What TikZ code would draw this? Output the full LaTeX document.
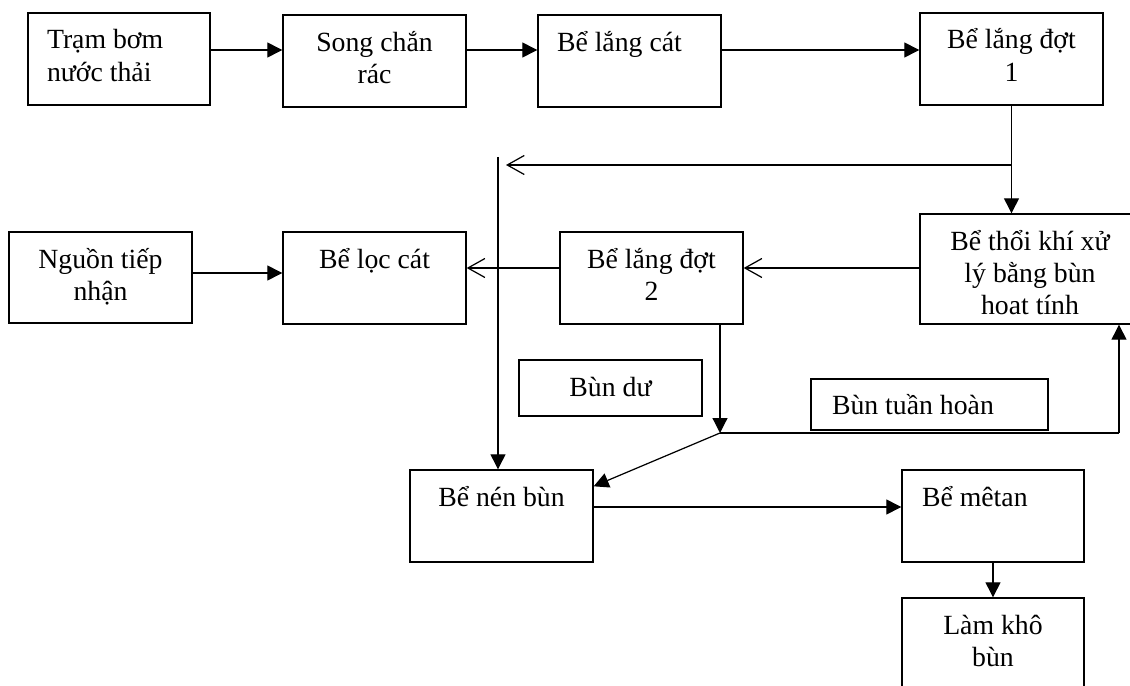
\documentclass[tikz,border=0pt]{standalone}
\usepackage{fontspec}
\setmainfont{Liberation Serif}
\usetikzlibrary{arrows.meta,calc}
\newcommand{\btxt}[4]{\parbox[c][#3][t]{#2}{#1\rule{0pt}{0.72cm}#4}}

\begin{document}
\begin{tikzpicture}[x=0.02cm, y=-0.02cm,
  stg/.style={draw=black, line width=0.8pt, inner sep=0pt, font=\fontsize{15.8pt}{18.4pt}\selectfont},
  arr/.style={-{Triangle[length=0.3cm, width=0.3cm]}, line width=0.7pt},
  oarr/.style={-{Straight Barb[length=0.34cm, width=0.38cm]}, line width=0.7pt},
  ln/.style={line width=0.7pt}]
\useasboundingbox (0,0) rectangle (1130,686);
\clip (0,0) rectangle (1130,686);

%% -- water line --------------------------------------------
\node[stg] (trb)   at (119,59)    {\btxt{\raggedright\leftskip=0.38cm}{3.64cm}{1.84cm}{Trạm bơm\\nước thải}};
\node[stg] (song)  at (374.5,61)  {\btxt{\centering}{3.66cm}{1.84cm}{Song chắn\\rác}};
\node[stg] (lcat)  at (629.5,61)  {\btxt{\raggedright\leftskip=0.38cm}{3.66cm}{1.84cm}{Bể lắng cát}};
\node[stg] (ld1)   at (1011.5,59) {\btxt{\centering}{3.66cm}{1.84cm}{Bể lắng đợt\\1}};
\node[stg] (thoi)  at (1030,269)  {\btxt{\centering}{4.4cm}{2.2cm}{Bể thổi khí xử\\lý bằng bùn\\hoat tính}};
\node[stg] (ld2)   at (651.5,278) {\btxt{\centering}{3.66cm}{1.84cm}{Bể lắng đợt\\2}};
\node[stg] (loc)   at (374.5,278) {\btxt{\centering}{3.66cm}{1.84cm}{Bể lọc cát}};
\node[stg] (nguon) at (100.5,277.5) {\btxt{\centering}{3.66cm}{1.82cm}{Nguồn tiếp\\nhận}};

%% -- sludge line -------------------------------------------
\node[stg] (du)    at (610.5,388) {\btxt{\centering}{3.66cm}{1.12cm}{Bùn dư}};
\node[stg] (th)    at (929.5,404.5) {\btxt{\raggedright\leftskip=0.42cm}{4.74cm}{1.02cm}{Bùn tuần hoàn}};
\node[stg] (nen)   at (501.5,516) {\btxt{\centering}{3.66cm}{1.84cm}{Bể nén bùn}};
\node[stg] (metan) at (993,516)   {\btxt{\raggedright\leftskip=0.4cm}{3.64cm}{1.84cm}{Bể mêtan}};
\node[stg] (kho)   at (993,644)   {\btxt{\centering}{3.64cm}{1.84cm}{Làm khô\\bùn}};

\coordinate (row1) at (0,50);
\coordinate (row2) at (0,268);
\coordinate (row2b) at (0,273);
\coordinate (row3) at (0,507);
\coordinate (ret) at (0,165);
\coordinate (rettip) at (506,165);
\coordinate (vtop) at (498,157);
\coordinate (mix) at (720,433);
\coordinate (rcorner) at (1119,433);

\foreach \a/\b in {trb/song,song/lcat,lcat/ld1}{\draw[arr] (\a.east |- row1) -- (\b.west |- row1);}
\draw[arr] (ld1.south) -- (ld1.south |- thoi.north);
\draw[oarr] (ld1.south |- ret) -- (rettip);
\draw[arr] (vtop) -- (vtop |- nen.north);
\draw[oarr] (thoi.west |- row2) -- (ld2.east |- row2);
\draw[oarr] (ld2.west |- row2) -- (loc.east |- row2);
\draw[arr] (nguon.east |- row2b) -- (loc.west |- row2b);
\draw[arr] (mix |- ld2.south) -- (mix);
\draw[ln] (mix) -- (rcorner);
\draw[arr] (rcorner) -- (rcorner |- thoi.south);
\draw[arr] (mix) -- ([yshift=-0.34cm]nen.north east);
\draw[arr] (nen.east |- row3) -- (metan.west |- row3);
\draw[arr] (metan.south) -- (kho.north);
\end{tikzpicture}
\end{document}
